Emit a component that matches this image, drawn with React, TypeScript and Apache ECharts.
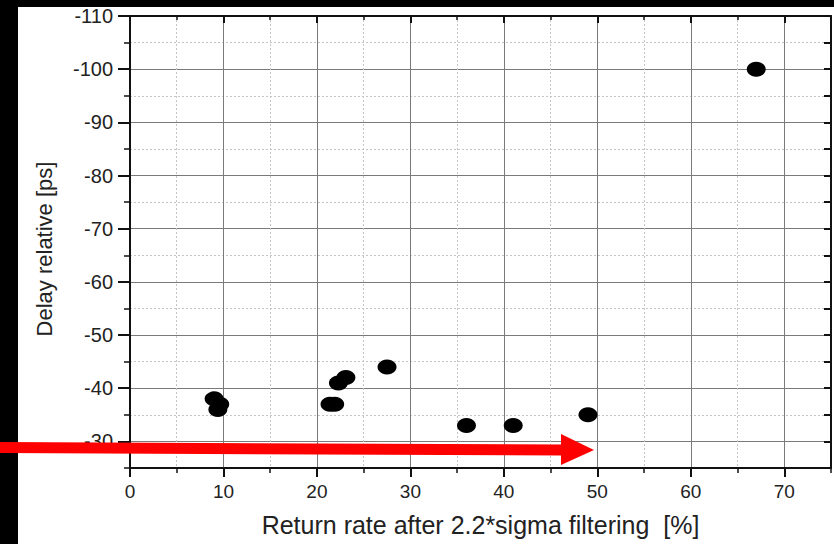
import React, { useEffect, useRef } from "react";
import * as echarts from "echarts";

const returnRate = [67, 9.0, 9.6, 9.4, 21.4, 21.9, 22.3, 23.1, 27.5, 36, 41, 49];
const delayRelative = [-100, -38, -37, -36, -37, -37, -41, -42, -44, -33, -33, -35];
const xMajorTicks = [0, 10, 20, 30, 40, 50, 60, 70];
const yMajorTicks = [-110, -100, -90, -80, -70, -60, -50, -40, -30];
const xName = "Return rate after 2.2*sigma filtering  [%]";
const yName = "Delay relative [ps]";

export default function App() {
  const ref = useRef<HTMLDivElement>(null);
  useEffect(() => {
    if (!ref.current) return;
    const chart = echarts.init(ref.current, null, { renderer: "svg" });
    const font = "Liberation Sans, Arial, sans-serif";
    const xBase = { type: "value", min: 0, max: 75, gridIndex: 0 };
    const yBase = { type: "value", min: -110, max: -25, inverse: true, gridIndex: 0 };
    const hideLabel = { show: false };
    chart.setOption({
      animation: false,
      backgroundColor: "#ffffff",
      grid: { left: 130, top: 16, right: 3, bottom: 76, containLabel: false },
      xAxis: [
        {
          ...xBase, position: "bottom", interval: 5,
          axisLine: { show: false },
          axisTick: { show: true, inside: false, length: 5, lineStyle: { color: "#111", width: 1.5 } },
          axisLabel: hideLabel,
          splitLine: { show: true, lineStyle: { color: "#c4c4c4", type: [2, 2], width: 1 } },
        },
        {
          ...xBase, position: "bottom", interval: 10,
          axisLine: { show: true, onZero: false, lineStyle: { color: "#111", width: 2 } },
          axisTick: { show: true, inside: false, length: 9, customValues: xMajorTicks, lineStyle: { color: "#111", width: 2 } },
          axisLabel: {
            show: true, margin: 14, fontSize: 19, color: "#222", fontFamily: font,
            showMaxLabel: false,
            formatter: (v: number) => (v % 10 === 0 ? String(v) : ""),
          },
          splitLine: { show: true, lineStyle: { color: "#7a7a7a", width: 1 } },
          name: xName, nameLocation: "middle", nameGap: 44,
          nameTextStyle: { fontSize: 25, color: "#222", fontFamily: font },
        },
        {
          ...xBase, position: "top", interval: 5,
          axisLine: { show: false },
          axisTick: { show: true, inside: true, length: 4, lineStyle: { color: "#111", width: 1.5 } },
          axisLabel: hideLabel, splitLine: { show: false },
        },
        {
          ...xBase, position: "top", interval: 10,
          axisLine: { show: true, onZero: false, lineStyle: { color: "#111", width: 2 } },
          axisTick: { show: true, inside: true, length: 7, customValues: xMajorTicks, lineStyle: { color: "#111", width: 2 } },
          axisLabel: hideLabel, splitLine: { show: false },
        },
      ],
      yAxis: [
        {
          ...yBase, position: "left", interval: 5,
          axisLine: { show: false },
          axisTick: { show: true, inside: false, length: 6, lineStyle: { color: "#111", width: 1.5 } },
          axisLabel: hideLabel,
          splitLine: { show: true, lineStyle: { color: "#c4c4c4", type: [2, 2], width: 1 } },
        },
        {
          ...yBase, position: "left", interval: 10,
          axisLine: { show: true, onZero: false, lineStyle: { color: "#111", width: 2 } },
          axisTick: { show: true, inside: false, length: 12, customValues: yMajorTicks, lineStyle: { color: "#111", width: 2 } },
          axisLabel: {
            show: true, margin: 17, fontSize: 20, color: "#222", fontFamily: font,
            formatter: (v: number) => (v % 10 === 0 ? String(v) : ""),
          },
          splitLine: { show: true, lineStyle: { color: "#7a7a7a", width: 1 } },
          name: yName, nameLocation: "middle", nameGap: 75, nameRotate: 90,
          nameTextStyle: { fontSize: 22, color: "#222", fontFamily: font, padding: [0, 14, 0, 0] },
        },
        {
          ...yBase, position: "right", interval: 5,
          axisLine: { show: true, onZero: false, lineStyle: { color: "#111", width: 2 } },
          axisTick: { show: true, inside: true, length: 7, lineStyle: { color: "#111", width: 2 } },
          axisLabel: hideLabel, splitLine: { show: false },
        },
      ],
      series: [
        {
          type: "scatter",
          xAxisIndex: 1,
          yAxisIndex: 1,
          symbol: "circle",
          symbolSize: [19, 15],
          itemStyle: { color: "#000000", opacity: 1 },
          data: returnRate.map((x, i) => [x, delayRelative[i]]),
          z: 5,
        },
      ],
      graphic: [
        { type: "rect", shape: { x: 0, y: 0, width: 18, height: 544 }, style: { fill: "#000" }, z: 50 },
        { type: "rect", shape: { x: 0, y: 0, width: 834, height: 7 }, style: { fill: "#000" }, z: 50 },
        {
          type: "polygon",
          shape: { points: [[0, 442], [563, 444.5], [563, 455.5], [0, 453]] },
          style: { fill: "#ff0000" }, z: 60,
        },
        {
          type: "polygon",
          shape: { points: [[561, 434], [594, 450], [561, 465]] },
          style: { fill: "#ff0000" }, z: 60,
        },
      ],
    });
    return () => chart.dispose();
  }, []);
  return (
    <div
      ref={ref}
      style={{ position: "fixed", left: 0, top: 0, width: 834, height: 544 }}
    />
  );
}
